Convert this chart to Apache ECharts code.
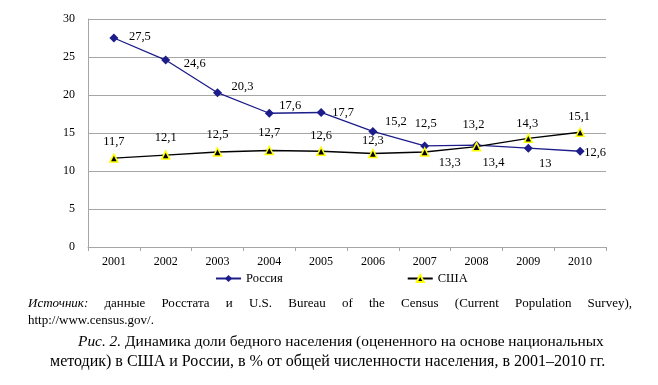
<!DOCTYPE html>
<html><head><meta charset="utf-8">
<script src="https://cdn.jsdelivr.net/npm/echarts@6/dist/echarts.min.js"></script>
<style>html,body{margin:0;padding:0;background:#fff}#c{width:658px;height:385px}</style>
</head><body><div id="c"></div>
<script>
const years = ['2001','2002','2003','2004','2005','2006','2007','2008','2009','2010'];
const russia = [27.5, 24.6, 20.3, 17.6, 17.7, 15.2, 13.3, 13.4, 13, 12.6];
const usa = [11.7, 12.1, 12.5, 12.7, 12.6, 12.3, 12.5, 13.2, 14.3, 15.1];
const yTicks = [0, 5, 10, 15, 20, 25, 30];

// label offsets (style only)
const ruOff = [[26,-1],[29,4],[25,-6],[21,-8],[22,0],[23,-10],[25,17],[17,18],[17,16],[15,1]];
const usOff = [[0,-16],[0,-17],[0,-17],[0,-18],[0,-16],[0,-13],[1,-28],[-3,-22],[-1,-15],[-1,-16]];

const FONT = '"Liberation Serif","Times New Roman",serif';
const fmt = v => String(v).replace('.', ',');

function mk(vals, offs){
  return vals.map((v,i)=>({value:v, label:{offset:offs[i]}}));
}

// justified source line
const cv = document.createElement('canvas').getContext('2d');
const srcWords = ['Источник:','данные','Росстата','и','U.S.','Bureau','of','the','Census','(Current','Population','Survey),'];
const widths = srcWords.map((w,i)=>{cv.font=(i===0?'italic ':'')+'13px '+FONT;return cv.measureText(w).width;});
const x0 = 28, x1 = 632;
const gap = (x1-x0-widths.reduce((a,b)=>a+b,0))/(srcWords.length-1);
const graphics = [];
let cx = x0;
srcWords.forEach((w,i)=>{
  graphics.push({type:'text', left:cx, top:297, style:{text:w, font:(i===0?'italic ':'')+'13px '+FONT, fill:'#000'}});
  cx += widths[i]+gap;
});
graphics.push({type:'text', left:28, top:314, style:{text:'http://www.census.gov/.', font:'13px '+FONT, fill:'#000'}});
graphics.push({type:'text', left:78, top:334, style:{
  text:'{i|Рис. 2.} Динамика доли бедного населения (оцененного на основе национальных',
  font:'15.4px '+FONT, fill:'#000', rich:{i:{fontStyle:'italic', fontSize:15.4, fontFamily:FONT}}}});
graphics.push({type:'text', left:50, top:354, style:{
  text:'методик) в США и России, в % от общей численности населения, в 2001–2010 гг.',
  font:'16px '+FONT, fill:'#000'}});

const chart = echarts.init(document.getElementById('c'));
chart.setOption({
  animation:false,
  textStyle:{fontFamily:FONT},
  grid:{left:88, right:52, top:19, bottom:138},
  legend:{
    left:215, top:272, padding:0, itemGap:124, itemWidth:25, itemHeight:9,
    textStyle:{fontFamily:FONT, fontSize:12.5, color:'#000'},
    data:['Россия','США']
  },
  xAxis:{
    type:'category', data:years, boundaryGap:true,
    axisLine:{lineStyle:{color:'#a6a6a6'}},
    axisTick:{show:true, length:4, lineStyle:{color:'#a6a6a6'}},
    axisLabel:{color:'#000', fontSize:12, fontFamily:FONT, margin:9}
  },
  yAxis:{
    type:'value', min:yTicks[0], max:yTicks[yTicks.length-1], interval:5,
    axisLine:{show:true, lineStyle:{color:'#a6a6a6'}},
    axisTick:{show:false},
    axisLabel:{color:'#000', fontSize:12, fontFamily:FONT, margin:13},
    splitLine:{lineStyle:{color:'#a6a6a6'}}
  },
  series:[
    {name:'Россия', type:'line', data:mk(russia, ruOff), symbol:'diamond', symbolSize:9,
     lineStyle:{color:'#1c1c8a', width:1.3}, itemStyle:{color:'#1c1c8a'},
     label:{show:true, position:'inside', formatter:p=>fmt(p.value), color:'#000', fontSize:12.5, fontFamily:FONT}},
    {name:'США', type:'line', data:mk(usa, usOff), symbol:'triangle', symbolSize:8,
     lineStyle:{color:'#000', width:1.3}, itemStyle:{color:'#000', borderColor:'#ffff00', borderWidth:1.5},
     label:{show:true, position:'inside', formatter:p=>fmt(p.value), color:'#000', fontSize:12.5, fontFamily:FONT}}
  ],
  graphic:graphics
});
</script></body></html>
